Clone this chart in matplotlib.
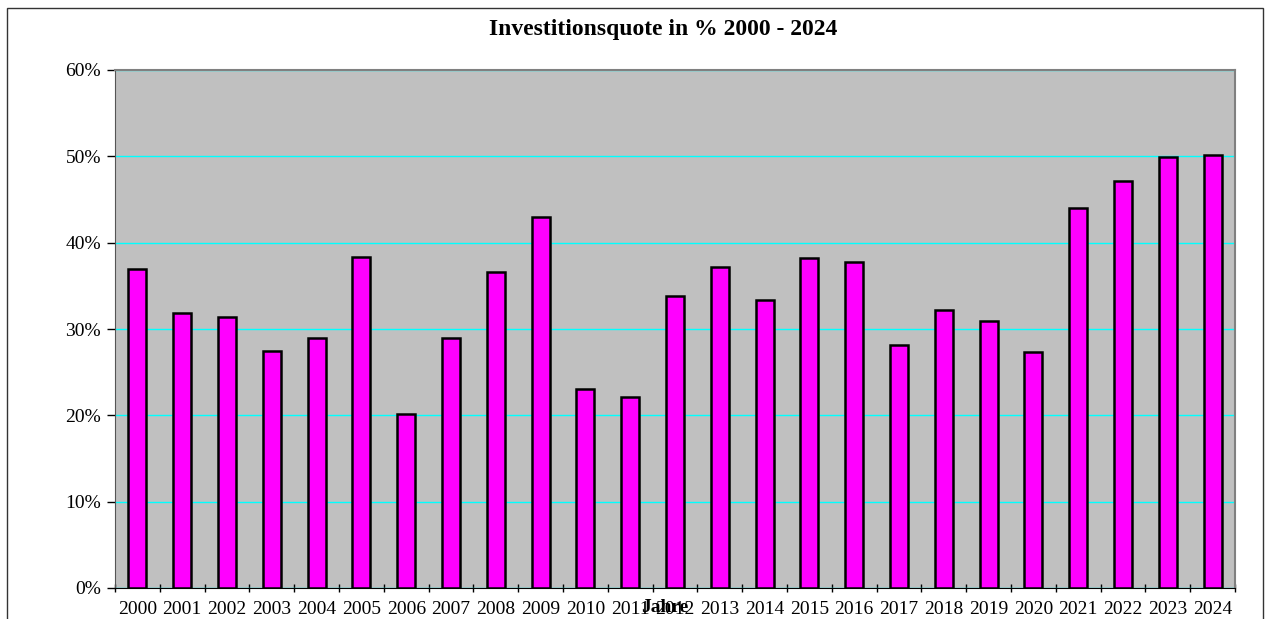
import numpy as np
import matplotlib
matplotlib.use("Agg")
import matplotlib.pyplot as plt
from matplotlib.patches import Rectangle
from matplotlib.ticker import FixedLocator, PercentFormatter

jahre = [str(j) for j in range(2000, 2025)]
quote = [36.9, 31.9, 31.4, 27.4, 29.0, 38.3, 20.2, 29.0, 36.6, 43.0,
         23.0, 22.1, 33.8, 37.2, 33.4, 38.2, 37.8, 28.1, 32.2, 30.9,
         27.3, 44.0, 47.1, 49.9, 50.2]

plt.rcParams['font.family'] = ['Liberation Serif', 'DejaVu Serif']

W, H = 1271, 619
fig = plt.figure(figsize=(W / 100, H / 100), dpi=100)
fig.patches.append(Rectangle((7 / W, -0.01), 1256 / W, 1 - 8 / H + 0.01,
                             transform=fig.transFigure, fill=False,
                             edgecolor='#333333', lw=1.0))

ax = fig.add_axes([115 / W, 1 - 588 / H, 1120 / W, 518 / H])
ax.set_facecolor('#c0c0c0')
x = np.arange(len(jahre))
ax.bar(x, quote, width=0.4, color='#ff00ff', edgecolor='black', linewidth=1.8, zorder=3)

ax.set_xlim(-0.5, len(jahre) - 0.5)
ax.set_ylim(0, 60)
ax.set_yticks(np.arange(0, 61, 10))
ax.yaxis.set_major_formatter(PercentFormatter(decimals=0))
ax.grid(axis='y', color='#00ffff', lw=1.0, zorder=1)

ax.set_xticks(x)
ax.set_xticklabels(jahre)
ax.xaxis.set_minor_locator(FixedLocator(np.arange(-0.5, len(jahre), 1.0)))
ax.tick_params(axis='x', which='major', length=0, pad=9, labelsize=14)
ax.tick_params(axis='x', which='minor', length=6, direction='inout', width=1)
ax.tick_params(axis='y', length=6, direction='out', width=1, labelsize=14, pad=4)

for s in ['top', 'right']:
    ax.spines[s].set_color('#808080')
    ax.spines[s].set_linewidth(1.5)
ax.spines['left'].set_color('#555555')
ax.spines['bottom'].set_color('black')

fig.text(663 / W, 1 - 30 / H, 'Investitionsquote in % 2000 - 2024',
         ha='center', va='center', fontsize=17, fontweight='bold')
fig.text(665 / W, 1 - 608 / H, 'Jahre', ha='center', va='center',
         fontsize=14, fontweight='bold')

fig.savefig('out.png', dpi=100)
